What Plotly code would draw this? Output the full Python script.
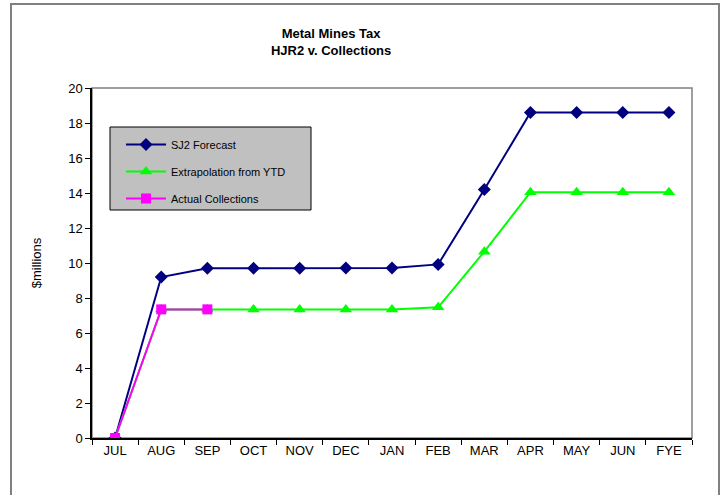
import plotly.graph_objects as go

months = ["JUL", "AUG", "SEP", "OCT", "NOV", "DEC", "JAN", "FEB", "MAR", "APR", "MAY", "JUN", "FYE"]
sj2_forecast = [0.0, 9.2, 9.7, 9.7, 9.7, 9.72, 9.72, 9.92, 14.2, 18.6, 18.6, 18.6, 18.6]
extrapolation = [0.0, 7.35, 7.35, 7.35, 7.35, 7.35, 7.35, 7.47, 10.65, 14.05, 14.05, 14.05, 14.05]
actual_months = ["JUL", "AUG", "SEP"]
actual = [0.0, 7.35, 7.35]
y_ticks = list(range(0, 21, 2))

FONT = "Arial, Liberation Sans, sans-serif"

fig = go.Figure()
fig.add_trace(go.Scatter(
    x=months, y=sj2_forecast, name="SJ2 Forecast", mode="lines+markers",
    line=dict(color="#000080", width=2),
    marker=dict(symbol="diamond", size=10, color="#000080"),
    legendgroup="a",
))
fig.add_trace(go.Scatter(
    x=months, y=extrapolation, name="Extrapolation from YTD", mode="lines+markers",
    line=dict(color="#00FF00", width=2),
    marker=dict(symbol="triangle-up", size=11, color="#00FF00"),
    legendgroup="b",
))
fig.add_trace(go.Scatter(
    x=actual_months, y=actual, name="Actual Collections", mode="lines+markers",
    line=dict(color="#FF00FF", width=2),
    marker=dict(symbol="square", size=10, color="#FF00FF"),
    legendgroup="c",
))

L, R, T, B = 92, 33, 88, 57
W, H = 725, 495
pw, ph = W - L - R, H - T - B

def px(x):
    return (x - L) / pw

def py(y):
    return (H - B - y) / ph

shapes = [
    # outer chart frame
    dict(type="rect", xref="paper", yref="paper",
         x0=px(11), x1=px(719), y0=py(520), y1=py(4),
         line=dict(color="#808080", width=2), fillcolor="rgba(0,0,0,0)", layer="below"),
    # plot area frame
    dict(type="rect", xref="paper", yref="paper", x0=0, x1=1, y0=0, y1=1,
         line=dict(color="#808080", width=1.5), fillcolor="rgba(0,0,0,0)", layer="below"),
    # legend box
    dict(type="rect", xref="paper", yref="paper",
         x0=px(110), x1=px(311), y0=py(210), y1=py(127),
         line=dict(color="#000000", width=1), fillcolor="#C0C0C0", layer="below"),
]

fig.update_layout(
    width=W, height=H,
    margin=dict(l=L, r=R, t=T, b=B),
    paper_bgcolor="white", plot_bgcolor="white",
    font=dict(family=FONT, color="black", size=13),
    title=dict(
        text="<b>Metal Mines Tax<br>HJR2 v. Collections</b>",
        x=px(366), xanchor="center", y=1 - 38 / H, yanchor="middle",
        font=dict(family=FONT, size=13, color="black"),
    ),
    showlegend=True,
    legend=dict(
        x=px(121), y=py(130), xanchor="left", yanchor="top",
        bgcolor="rgba(0,0,0,0)", borderwidth=0,
        font=dict(family=FONT, size=11, color="black"),
        tracegroupgap=8, itemwidth=40,
    ),
    shapes=shapes,
    xaxis=dict(
        type="category", categoryorder="array", categoryarray=months,
        range=[-0.5, 12.5], tickson="boundaries",
        ticks="outside", ticklen=5, tickcolor="black",
        showline=True, linecolor="black", linewidth=1.5,
        showgrid=False, zeroline=False,
        tickfont=dict(family=FONT, size=13, color="black"),
    ),
    yaxis=dict(
        range=[0, 20], tickvals=y_ticks,
        ticks="outside", ticklen=5, tickcolor="black",
        showline=True, linecolor="black", linewidth=1.5,
        showgrid=False, zeroline=False,
        tickfont=dict(family=FONT, size=13, color="black"),
        title=dict(text="$millions", font=dict(family=FONT, size=13, color="black"), standoff=24),
    ),
)

fig.write_html("out.html")
